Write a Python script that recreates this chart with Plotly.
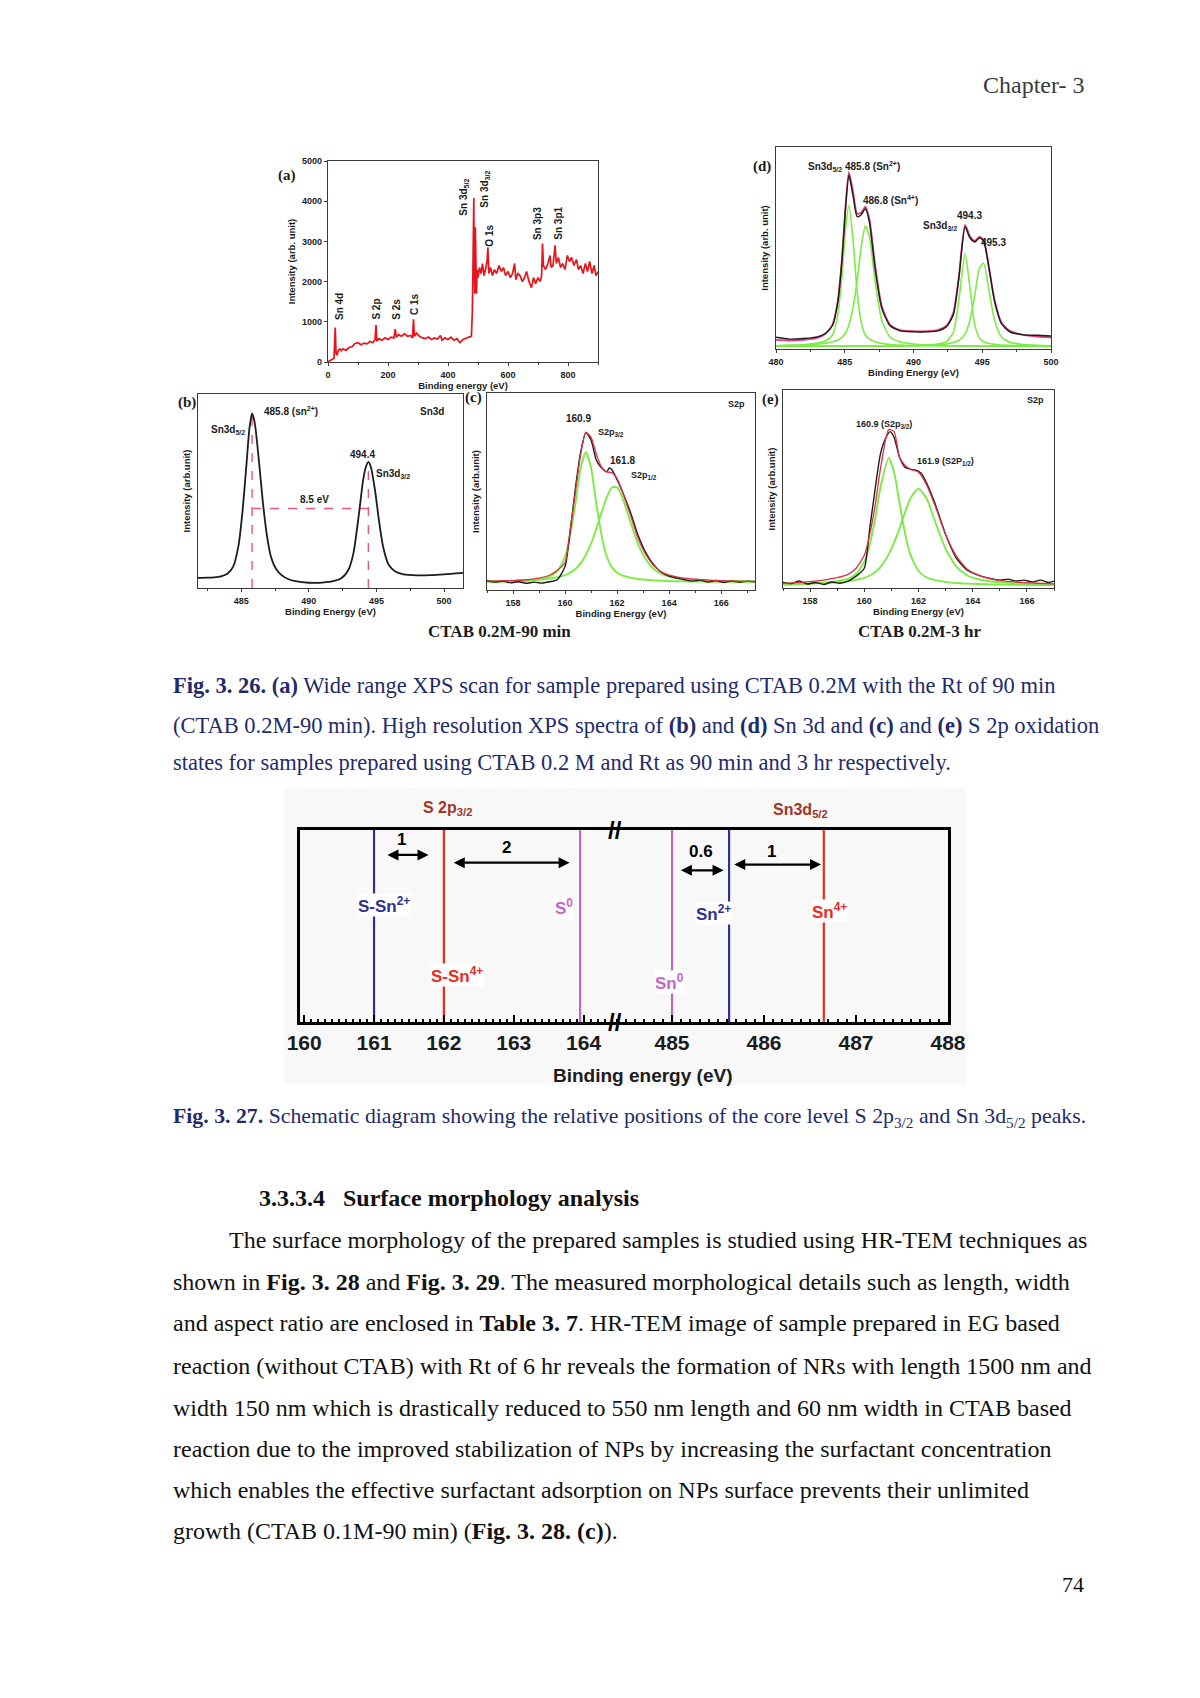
import plotly.graph_objects as go

W, H = 1200, 1698
PAGE_SHIFT = 8  # the page body adds an 8px margin around the figure

# ---------------- data ----------------
# (a) wide XPS survey
survey_be = [0, 5, 10, 15, 20, 24, 27, 30, 35, 40, 45, 50, 55, 60, 70, 80, 90, 100, 110, 120,
             130, 140, 150, 157, 160, 163, 170, 180, 190, 200, 210, 220, 224, 228, 235, 245, 255,
             265, 275, 282, 285, 288, 295, 305, 315, 325, 335, 345, 355, 365, 375, 380, 390, 400,
             410, 420, 430, 440, 450, 460, 470, 478, 481, 483, 485, 486, 487, 489, 491, 493, 495,
             497, 500, 505, 510, 515, 520, 525, 530, 533, 536, 542, 548, 555, 562, 570, 578, 585,
             592, 600, 608, 615, 622, 626, 633, 640, 648, 655, 662, 670, 678, 685, 692, 700, 707,
             712, 715, 718, 725, 733, 740, 744, 750, 757, 761, 768, 775, 782, 790, 798, 805, 812,
             820, 828, 835, 842, 850, 858, 865, 872, 880, 887, 893, 900]
survey_cps = [10, 30, 60, 70, 90, 860, 200, 180, 300, 320, 280, 330, 300, 290, 360, 380, 460, 480,
              430, 470, 450, 510, 480, 560, 920, 520, 580, 540, 600, 560, 620, 600, 820, 620, 680,
              640, 700, 640, 660, 600, 1060, 640, 720, 640, 600, 580, 620, 560, 600, 570, 660, 540,
              600, 560, 620, 540, 580, 480, 560, 600, 620, 640, 1200, 2200, 3000, 4080, 2800, 1700,
              3350, 2200, 1700, 2300, 2100, 2350, 2200, 2450, 2150, 2300, 2500, 2850, 2200, 2350,
              2150, 2300, 2200, 2400, 2250, 2350, 2150, 2250, 2100, 2200, 2450, 2050, 2200, 2150,
              2000, 2100, 2250, 2000, 1850, 2100, 1950, 2100, 2000, 2150, 2950, 2400, 2300, 2450,
              2650, 2350, 2400, 2900, 2450, 2600, 2350, 2450, 2300, 2650, 2500, 2600, 2400, 2550,
              2300, 2400, 2200, 2450, 2250, 2500, 2200, 2400, 2150, 2250]
survey_labels = ["Sn 4d", "S 2p", "S 2s", "C 1s", "Sn 3d<sub>5/2</sub>", "Sn 3d<sub>3/2</sub>",
                 "O 1s", "Sn 3p3", "Sn 3p1"]
survey_label_be = [39, 161, 228, 290, 453, 523, 540, 696, 768]
survey_label_cps = [1000, 1000, 1000, 1120, 3600, 3800, 2820, 2990, 2990]

# (b) Sn 3d, CTAB 0.2M-90 min
b_be = [481.8, 482.5, 483, 483.5, 484, 484.4, 484.8, 485.1, 485.4, 485.6, 485.8, 486.0, 486.3,
        486.6, 486.9, 487.2, 487.6, 488, 488.5, 489, 490, 491, 491.8, 492.4, 492.9, 493.3, 493.7,
        494.0, 494.2, 494.4, 494.6, 494.9, 495.2, 495.5, 495.9, 496.4, 497, 498, 499, 500, 501.4]
b_int = [.052, .053, .055, .06, .075, .11, .22, .40, .65, .82, .90, .85, .66, .44, .27, .16, .095,
         .065, .045, .035, .027, .028, .035, .05, .09, .18, .38, .55, .62, .65, .62, .50, .34, .21,
         .12, .085, .07, .065, .066, .07, .078]
b_peak_be = [485.8, 494.4]
b_peak_int = [0.90, 0.65]
b_split_level = 0.41

# (c) S 2p, CTAB 0.2M-90 min
c_raw_be = [157, 157.3, 157.6, 157.9, 158.2, 158.5, 158.8, 159.1, 159.4, 159.7, 160, 160.2, 160.4,
            160.6, 160.8, 161, 161.2, 161.4, 161.6, 161.7, 161.8, 162, 162.2, 162.5, 162.8, 163.1,
            163.4, 163.7, 164, 164.3, 164.6, 164.9, 165.2, 165.5, 165.8, 166.1, 166.4, 166.7, 167,
            167.3]
c_raw = [.048, .040, .046, .036, .042, .034, .040, .035, .042, .052, .12, .30, .52, .70, .80, .76,
         .66, .62, .60, .62, .61, .56, .50, .40, .28, .19, .13, .09, .07, .06, .052, .045, .05, .04,
         .048, .038, .046, .04, .045, .042]
c_be = [157, 157.5, 158, 158.5, 159, 159.4, 159.7, 160, 160.2, 160.4, 160.6, 160.8, 161, 161.2,
        161.4, 161.6, 161.8, 162, 162.2, 162.5, 162.8, 163.1, 163.4, 163.7, 164, 164.5, 165, 165.5,
        166, 166.5, 167, 167.3]
c_fit = [.045, .046, .048, .052, .06, .075, .10, .14, .31, .50, .69, .80, .775, .69, .625, .60,
         .595, .565, .50, .385, .265, .18, .125, .092, .075, .062, .055, .05, .047, .045, .044, .044]
c_s32 = [.041, .042, .044, .047, .053, .068, .094, .17, .28, .44, .62, .70, .62, .44, .28, .17, .115,
         .088, .074, .063, .056, .052, .049, .047, .045, .044, .043, .042, .042, .041, .041, .041]
c_s12 = [.043, .044, .046, .048, .052, .058, .065, .076, .088, .107, .135, .178, .236, .31, .393,
         .47, .52, .522, .47, .35, .236, .156, .108, .083, .068, .058, .052, .049, .046, .045, .044,
         .044]

# (d) Sn 3d, CTAB 0.2M-3 hr
d_be = [480, 481, 482, 483, 483.6, 484.1, 484.5, 484.8, 485.05, 485.3, 485.6, 485.9, 486.2, 486.5,
        486.8, 487.2, 487.7, 488.3, 489, 490, 491, 491.8, 492.4, 492.9, 493.3, 493.75, 494.1,
        494.45, 494.8, 495.1, 495.5, 495.9, 496.4, 497, 498, 499, 500]
d_raw = [.058, .049, .052, .06, .078, .115, .235, .44, .69, .86, .76, .655, .665, .695, .625, .40,
         .20, .115, .09, .085, .085, .09, .11, .17, .35, .605, .55, .53, .55, .535, .395, .235, .125,
         .085, .07, .068, .064]
d_fit = [.045, .042, .045, .055, .075, .12, .24, .45, .70, .875, .78, .67, .675, .705, .64, .42, .21,
         .12, .095, .088, .088, .095, .115, .18, .36, .615, .56, .535, .555, .54, .40, .24, .13, .09,
         .07, .062, .058]
d_sn2_52 = [.016, .018, .021, .029, .041, .068, .171, .363, .587, .713, .543, .285, .133, .068, .049,
            .036, .028, .022, .019, .017, .016, .015, .015, .015, .014, .014, .014, .014, .014, .014,
            .014, .014, .014, .014, .014, .014, .014]
d_sn4_52 = [.016, .018, .020, .024, .029, .036, .045, .058, .079, .118, .203, .339, .505, .61, .554,
            .339, .14, .058, .036, .025, .02, .018, .017, .016, .016, .015, .015, .015, .015, .014,
            .014, .014, .014, .014, .014, .014, .014]
d_sn2_32 = [.014, .014, .014, .014, .014, .014, .014, .014, .014, .014, .014, .014, .014, .014, .014,
            .014, .014, .014, .015, .016, .019, .025, .036, .083, .243, .473, .307, .123, .054, .036,
            .027, .023, .019, .018, .016, .015, .014]
d_sn4_32 = [.014, .014, .014, .014, .014, .014, .014, .014, .014, .014, .014, .014, .014, .014, .014,
            .014, .014, .014, .015, .017, .018, .021, .025, .032, .042, .074, .141, .263, .401, .425,
            .284, .141, .059, .033, .022, .018, .016]

# (e) S 2p, CTAB 0.2M-3 hr
e_raw_be = [157, 157.3, 157.6, 157.9, 158.2, 158.5, 158.8, 159.1, 159.4, 159.7, 160, 160.2, 160.4,
            160.6, 160.8, 160.95, 161.1, 161.3, 161.5, 161.7, 161.9, 162.1, 162.3, 162.6, 163,
            163.4, 163.8, 164.2, 164.6, 165, 165.3, 165.6, 165.9, 166.2, 166.5, 166.8, 167]
e_raw = [.03, .022, .035, .02, .028, .018, .03, .024, .035, .06, .10, .30, .50, .68, .76, .79, .76,
         .66, .61, .60, .595, .58, .53, .43, .27, .15, .09, .065, .05, .04, .045, .035, .04, .03,
         .04, .028, .035]
e_be = [157, 157.5, 158, 158.5, 159, 159.4, 159.7, 160, 160.2, 160.4, 160.6, 160.9, 161.1, 161.3,
        161.5, 161.7, 162, 162.3, 162.6, 163, 163.4, 163.8, 164.2, 164.7, 165.2, 165.8, 166.4, 167]
e_fit = [.024, .027, .032, .04, .052, .069, .10, .165, .27, .417, .605, .80, .79, .66, .62, .60,
         .585, .52, .42, .27, .16, .095, .065, .045, .035, .028, .024, .021]
e_s32 = [.018, .019, .022, .027, .035, .047, .071, .133, .219, .349, .51, .657, .584, .429, .278,
         .17, .086, .053, .04, .031, .025, .022, .02, .018, .017, .016, .015, .015]
e_s12 = [.018, .02, .022, .025, .029, .034, .041, .051, .063, .08, .107, .17, .229, .301, .38, .452,
         .502, .452, .341, .198, .107, .063, .044, .033, .027, .023, .02, .018]

# Fig 3.27 schematic
s_levels = [161.0, 162.0, 163.95]
s_names = ["S-Sn<sup>2+</sup>", "S-Sn<sup>4+</sup>", "S<sup>0</sup>"]
s_label_x = [161.14, 162.19, 163.72]
s_label_y = [0.61, 0.245, 0.60]
sn_levels = [485.0, 485.62, 486.65]
sn_names = ["Sn<sup>0</sup>", "Sn<sup>2+</sup>", "Sn<sup>4+</sup>"]
sn_label_x = [484.97, 485.45, 486.71]
sn_label_y = [0.21, 0.57, 0.58]
s_gap_from = [161.17, 162.12]
s_gap_to = [161.78, 163.80]
s_gap_y = [0.87, 0.83]
s_gap_text = ["1", "2"]
s_gap_text_x = [161.40, 162.89]
s_gap_text_y = [0.95, 0.91]
sn_gap_from = [485.08, 485.66]
sn_gap_to = [485.56, 486.62]
sn_gap_y = [0.79, 0.82]
sn_gap_text = ["0.6", "1"]
sn_gap_text_x = [485.31, 486.08]
sn_gap_text_y = [0.89, 0.89]

caption_26 = [
    "<b>Fig. 3. 26.</b> <b>(a)</b> Wide range XPS scan for sample prepared using CTAB 0.2M with the Rt of 90 min",
    "(CTAB 0.2M-90 min). High resolution XPS spectra of <b>(b)</b> and <b>(d)</b> Sn 3d and <b>(c)</b> and <b>(e)</b> S 2p oxidation",
    "states for samples prepared using CTAB 0.2 M and Rt as 90 min and 3 hr respectively.",
]
caption_27 = ("<b>Fig. 3. 27.</b> Schematic diagram showing the relative positions of the core level "
              "S 2p<sub>3/2</sub> and Sn 3d<sub>5/2</sub> peaks.")
body_lines = [
    "The surface morphology of the prepared samples is studied using HR-TEM techniques as",
    "shown in <b>Fig. 3. 28</b> and <b>Fig. 3. 29</b>. The measured morphological details such as length, width",
    "and aspect ratio are enclosed in <b>Table 3. 7</b>. HR-TEM image of sample prepared in EG based",
    "reaction (without CTAB) with Rt of 6 hr reveals the formation of NRs with length 1500 nm and",
    "width 150 nm which is drastically reduced to 550 nm length and 60 nm width in CTAB based",
    "reaction due to the improved stabilization of NPs by increasing the surfactant concentration",
    "which enables the effective surfactant adsorption on NPs surface prevents their unlimited",
    "growth (CTAB 0.1M-90 min) (<b>Fig. 3. 28. (c)</b>).",
]

# ---------------- styling ----------------
INK = "#1c1c1c"
FRAME = "#3a3a3a"
RED = "#e8141b"
PINK = "#d8407e"
FITRED = "#dc3045"
GREEN = "#7ceb46"
NAVY = "#2e3192"
LRED = "#f0281e"
VIOLET = "#c266c6"
CAPTION = "#1f2b6b"
SANS = "Liberation Sans"
SERIF = "Liberation Serif"
TICK = dict(family=SANS, size=9, color=INK, weight="bold")
ATITLE = dict(family=SANS, size=9.5, color=INK, weight="bold")


def px(x):
    return (x - PAGE_SHIFT) / W


def py(y):
    return 1 - (y - PAGE_SHIFT) / H


def spec_axes(n, left, right, top, bottom, xr, tick0, dtick, minor, xtitle, ytitle,
              yr=(0, 1), ydtick=None):
    sx = "" if n == 1 else str(n)
    xa = dict(domain=[px(left), px(right)], range=list(xr), anchor="y" + sx, automargin=False,
              showline=True, mirror=True, linecolor=FRAME, linewidth=1.3,
              ticks="outside", ticklen=3, tickwidth=1, tickcolor=FRAME,
              tick0=tick0, dtick=dtick, ticklabelstandoff=1,
              minor=dict(dtick=minor, ticks="outside", ticklen=2, tickcolor=FRAME),
              showgrid=False, zeroline=False, tickfont=TICK,
              title=dict(text=xtitle, font=ATITLE, standoff=1))
    ya = dict(domain=[py(bottom), py(top)], range=list(yr), anchor="x" + sx, automargin=False,
              showline=True, mirror=True, linecolor=FRAME, linewidth=1.3,
              showgrid=False, zeroline=False, tickfont=TICK,
              title=dict(text=ytitle, font=ATITLE, standoff=4))
    if ydtick:
        ya.update(ticks="outside", ticklen=3, tickcolor=FRAME, dtick=ydtick, showticklabels=True)
    else:
        ya.update(ticks="", showticklabels=False)
    return {"xaxis" + sx: xa, "yaxis" + sx: ya}


def line(x, y, color, width, ax, dash=None):
    return go.Scatter(x=x, y=y, mode="lines", xaxis="x" + ax, yaxis="y" + ax,
                      line=dict(color=color, width=width, dash=dash, shape="spline", smoothing=0.6),
                      hoverinfo="skip", connectgaps=False)


fig = go.Figure()

# (a)
fig.add_trace(go.Scatter(x=survey_be, y=survey_cps, mode="lines", xaxis="x", yaxis="y",
                         line=dict(color=RED, width=1.7)))
# (d)
for comp in (d_sn2_52, d_sn4_52, d_sn2_32, d_sn4_32):
    fig.add_trace(line(d_be, comp, GREEN, 1.6, "2"))
fig.add_trace(line(d_be, d_fit, PINK, 1.8, "2"))
fig.add_trace(line(d_be, d_raw, INK, 1.4, "2"))
# (b)
guide_x, guide_y = [], []
for be, h in zip(b_peak_be, b_peak_int):
    guide_x += [be, be, None]
    guide_y += [0, h, None]
guide_x += [b_peak_be[0], b_peak_be[1]]
guide_y += [b_split_level, b_split_level]
fig.add_trace(go.Scatter(x=guide_x, y=guide_y, mode="lines", xaxis="x3", yaxis="y3",
                         line=dict(color="#f0508a", width=1.4, dash="dash")))
fig.add_trace(line(b_be, b_int, INK, 1.8, "3"))
# (c)
fig.add_trace(line(c_be, c_s32, GREEN, 1.9, "4"))
fig.add_trace(line(c_be, c_s12, GREEN, 1.9, "4"))
fig.add_trace(line(c_raw_be, c_raw, INK, 1.4, "4"))
fig.add_trace(line(c_be, c_fit, FITRED, 1.3, "4"))
# (e)
fig.add_trace(line(e_be, e_s32, GREEN, 1.9, "5"))
fig.add_trace(line(e_be, e_s12, GREEN, 1.9, "5"))
fig.add_trace(line(e_raw_be, e_raw, INK, 1.4, "5"))
fig.add_trace(line(e_be, e_fit, FITRED, 1.3, "5"))

# schematic level lines
for lv, col in zip(s_levels, [NAVY, LRED, VIOLET]):
    fig.add_trace(go.Scatter(x=[lv, lv], y=[0, 1], mode="lines", xaxis="x6", yaxis="y6",
                             line=dict(color=col, width=2.2)))
for lv, col in zip(sn_levels, [VIOLET, NAVY, LRED]):
    fig.add_trace(go.Scatter(x=[lv, lv], y=[0, 1], mode="lines", xaxis="x7", yaxis="y7",
                             line=dict(color=col, width=2.2)))

layout = dict(template="none", width=W, height=H, autosize=False,
              margin=dict(l=0, r=0, t=0, b=0, pad=0), showlegend=False,
              paper_bgcolor="white", plot_bgcolor="white", font=dict(family=SANS, color=INK))
layout.update(spec_axes(1, 328, 598, 161, 362, (0, 900), 0, 200, 100,
                        "Binding energy (eV)", "Intensity (arb. unit)", yr=(0, 5000), ydtick=1000))
layout.update(spec_axes(2, 776, 1051, 147, 349, (480, 500), 480, 5, 2.5,
                        "Binding Energy (eV)", "Intensity (arb. unit)"))
layout.update(spec_axes(3, 198, 463, 394, 588, (481.8, 501.4), 485, 5, 2.5,
                        "Binding Energy (eV)", "Intensity (arb.unit)"))
layout.update(spec_axes(4, 487, 755, 393, 590, (157, 167.3), 158, 2, 1,
                        "Binding Energy (eV)", "Intensity (arb.unit)"))
layout.update(spec_axes(5, 783, 1054, 390, 588, (157, 167), 158, 2, 1,
                        "Binding Energy (eV)", "Intensity (arb.unit)"))

SCH_TICK = dict(family=SANS, size=21, color=INK, weight="bold")
sch_x = dict(showline=True, mirror=True, linecolor="black", linewidth=3, ticks="inside",
             ticklen=7, tickwidth=2, tickcolor="black", dtick=1, ticklabelstandoff=0,
             minor=dict(dtick=0.1, ticks="inside", ticklen=3, tickcolor="black"),
             showgrid=False, zeroline=False, tickfont=SCH_TICK, automargin=False)
sch_y = dict(range=[0, 1], showline=True, linecolor="black", linewidth=3, ticks="",
             showticklabels=False, showgrid=False, zeroline=False, automargin=False,
             domain=[py(1022), py(830)])
layout["xaxis6"] = dict(sch_x, domain=[px(300), px(615)], range=[159.94, 164.45], tick0=160, anchor="y6")
layout["yaxis6"] = dict(sch_y, anchor="x6", side="left")
layout["xaxis7"] = dict(sch_x, domain=[px(615), px(948)], range=[484.38, 488.0], tick0=485, anchor="y7")
layout["yaxis7"] = dict(sch_y, anchor="x7", side="right")

layout["shapes"] = [dict(type="rect", xref="paper", yref="paper", x0=px(284), x1=px(966),
                         y0=py(1085), y1=py(788), fillcolor="#f8f8f8", line=dict(width=0),
                         layer="below")]

ann = []


def note(text, x, y, ax, size=10, color=INK, angle=0, xanchor="center", yanchor="middle",
         bg=None, family=SANS, bold=True):
    d = dict(text=text, x=x, y=y, xref="x" + ax, yref="y" + ax, showarrow=False,
             font=dict(family=family, size=size, color=color, weight="bold" if bold else "normal"),
             textangle=angle, xanchor=xanchor, yanchor=yanchor)
    if bg:
        d.update(bgcolor=bg, borderpad=0)
    ann.append(d)


def page(text, x, y, size, color="#111", family=SERIF, xanchor="left", bold=False):
    ann.append(dict(text=text, x=px(x), y=py(y), xref="paper", yref="paper", showarrow=False,
                    xanchor=xanchor, yanchor="middle",
                    font=dict(family=family, size=size, color=color,
                              weight="bold" if bold else "normal")))


# (a) peak labels
for t, x, y in zip(survey_labels, survey_label_be, survey_label_cps):
    note(t, x, y, "", size=10, angle=-90, yanchor="bottom")
# (b) labels
note("485.8 (sn<sup>2+</sup>)", 488.66, 0.91, "3")
note("Sn3d<sub>5/2</sub>", 484.0, 0.814, "3")
note("494.4", 493.95, 0.686, "3")
note("Sn3d<sub>3/2</sub>", 496.2, 0.59, "3")
note("8.5 eV", 490.44, 0.455, "3")
note("Sn3d", 499.1, 0.91, "3")
# (c) labels
note("160.9", 160.52, 0.87, "4")
note("S2p<sub>3/2</sub>", 161.78, 0.80, "4", size=9)
note("161.8", 162.19, 0.655, "4")
note("S2p<sub>1/2</sub>", 163.05, 0.58, "4", size=9)
note("S2p", 166.6, 0.945, "4", size=9)
# (d) labels
note("Sn3d<sub>5/2</sub>", 483.56, 0.90, "2")
note("485.8 (Sn<sup>2+</sup>)", 487.05, 0.905, "2")
note("486.8 (Sn<sup>4+</sup>)", 488.3, 0.74, "2")
note("Sn3d<sub>3/2</sub>", 491.95, 0.61, "2")
note("494.3", 494.1, 0.66, "2")
note("495.3", 495.8, 0.525, "2")
# (e) labels
note("160.9 (S2p<sub>3/2</sub>)", 160.71, 0.827, "5", size=9)
note("161.9 (S2P<sub>1/2</sub>)", 163.0, 0.638, "5", size=9)
note("S2p", 166.3, 0.95, "5", size=9)

# panel letters
for t, x, y in [("(a)", 287, 175), ("(b)", 187, 402), ("(c)", 474, 398), ("(d)", 762, 166), ("(e)", 770, 400)]:
    page(t, x, y, 15, color=INK, xanchor="center", bold=True)
page("CTAB 0.2M-90 min", 500, 632, 17, color=INK, xanchor="center", bold=True)
page("CTAB 0.2M-3 hr", 919, 632, 17, color=INK, xanchor="center", bold=True)

# schematic labels
for t, x, y, col in zip(s_names, s_label_x, s_label_y, [NAVY, LRED, VIOLET]):
    note(t, x, y, "6", size=17, color=col, bg="white")
for t, x, y, col in zip(sn_names, sn_label_x, sn_label_y, [VIOLET, NAVY, LRED]):
    note(t, x, y, "7", size=17, color=col, bg="white")
for ax_id, starts, ends, ys, texts, tx, ty in [
        ("6", s_gap_from, s_gap_to, s_gap_y, s_gap_text, s_gap_text_x, s_gap_text_y),
        ("7", sn_gap_from, sn_gap_to, sn_gap_y, sn_gap_text, sn_gap_text_x, sn_gap_text_y)]:
    for a, b, yv, t, xt, yt in zip(starts, ends, ys, texts, tx, ty):
        ann.append(dict(x=b, y=yv, ax=a, ay=yv, xref="x" + ax_id, yref="y" + ax_id,
                        axref="x" + ax_id, ayref="y" + ax_id, text="", showarrow=True,
                        arrowhead=2, arrowside="end+start", arrowwidth=2.2, arrowsize=1,
                        arrowcolor="black", standoff=0, startstandoff=0))
        note(t, xt, yt, ax_id, size=17, color="black")
for yy in (830, 1022):
    page("//", 615, yy, 24, color="black", family=SANS, xanchor="center", bold=True)
page("S 2p<sub>3/2</sub>", 448, 808, 16, color="#a3342a", family=SANS, xanchor="center", bold=True)
page("Sn3d<sub>5/2</sub>", 800, 810, 16, color="#a3342a", family=SANS, xanchor="center", bold=True)
page("Binding energy (eV)", 642, 1075, 19, color=INK, family=SANS, xanchor="center", bold=True)

# page text
page("Chapter- 3", 1086, 85, 24, color="#3a3a3a", xanchor="right")
for i, t in enumerate(caption_26):
    page(t, 171, [686, 725, 762][i], 22.5, color=CAPTION)
page(caption_27, 171, 1117, 21.8, color=CAPTION)
page("3.3.3.4   Surface morphology analysis", 257, 1198, 24, bold=True)
body_y = [1240, 1282, 1323, 1366, 1408, 1449, 1490, 1531]
for i, (t, y) in enumerate(zip(body_lines, body_y)):
    page(t, 227 if i == 0 else 171, y, 24)
page("74", 1086, 1584, 22, xanchor="right")

layout["annotations"] = ann
fig.update_layout(**layout)
fig.write_html("out.html")
